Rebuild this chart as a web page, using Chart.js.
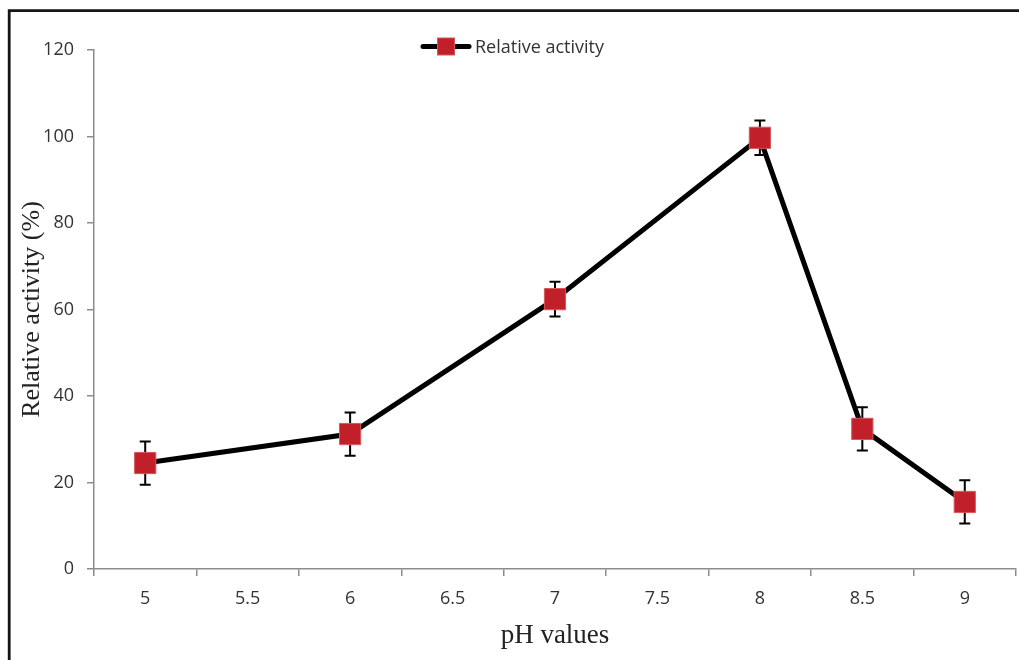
<!DOCTYPE html>
<html><head><meta charset="utf-8">
<script src="https://cdn.jsdelivr.net/npm/chart.js@4/dist/chart.umd.min.js"></script>
<style>html,body{margin:0;padding:0;background:#fff;}#wrap{width:1019px;height:660px;position:relative;}</style>
</head><body><div id="wrap"><canvas id="c" width="1019" height="660"></canvas></div>
<script>
// ---- data ----
const phLabels = ['5', '5.5', '6', '6.5', '7', '7.5', '8', '8.5', '9'];
const relativeActivity = [24.5, null, 31.2, null, 62.4, null, 99.7, 32.4, 15.5];
const errorSD = [5, null, 5, null, 4, null, 4, 5, 5];
const yMin = 0, yMax = 120, yStep = 20;
const seriesName = 'Relative activity';
const xTitle = 'pH values';
const yTitle = 'Relative activity (%)';

const RED = '#C1202A';
const RED_EDGE = '#D8575C';
const AXIS = '#8C8C8C';
const TXT = '#333333';

const errorBars = {
  id: 'errorBars',
  beforeDatasetsDraw(chart) {
    const ctx = chart.ctx, ys = chart.scales.y;
    const meta = chart.getDatasetMeta(0);
    ctx.save();
    ctx.strokeStyle = '#000';
    ctx.lineWidth = 2;
    meta.data.forEach((pt, i) => {
      const v = relativeActivity[i], e = errorSD[i];
      if (v == null || e == null) return;
      const x = pt.x;
      const yt = ys.getPixelForValue(v + e), yb = ys.getPixelForValue(v - e);
      ctx.beginPath();
      ctx.moveTo(x, yt); ctx.lineTo(x, yb);
      ctx.moveTo(x - 5.5, yt); ctx.lineTo(x + 5.5, yt);
      ctx.moveTo(x - 5.5, yb); ctx.lineTo(x + 5.5, yb);
      ctx.stroke();
    });
    ctx.restore();
  }
};

const frameAndLegend = {
  id: 'frameAndLegend',
  afterDraw(chart) {
    const ctx = chart.ctx;
    ctx.save();
    // outer frame
    ctx.strokeStyle = '#151515';
    ctx.lineWidth = 2.8;
    ctx.beginPath();
    ctx.moveTo(9.2, 660); ctx.lineTo(9.2, 10.7); ctx.lineTo(1019, 10.7);
    ctx.stroke();
    // legend
    const cy = 46.5;
    ctx.strokeStyle = '#000';
    ctx.lineWidth = 5;
    ctx.lineCap = 'round';
    ctx.beginPath(); ctx.moveTo(423, cy); ctx.lineTo(469, cy); ctx.stroke();
    ctx.fillStyle = RED;
    ctx.fillRect(437.5, cy - 8.5, 17, 17);
    ctx.strokeStyle = RED_EDGE; ctx.lineWidth = 1;
    ctx.strokeRect(437.5, cy - 8.5, 17, 17);
    ctx.fillStyle = TXT;
    ctx.font = '18px "Open Sans"';
    ctx.textBaseline = 'middle';
    ctx.textAlign = 'left';
    ctx.fillText(seriesName, 475, cy + 1);
    ctx.restore();
  }
};

new Chart(document.getElementById('c'), {
  type: 'line',
  data: {
    labels: phLabels,
    datasets: [{
      label: seriesName,
      data: relativeActivity,
      spanGaps: true,
      borderColor: '#000',
      borderWidth: 5,
      tension: 0,
      pointStyle: 'rect',
      pointRadius: 15,
      pointHoverRadius: 15,
      pointBackgroundColor: RED,
      pointBorderColor: RED_EDGE,
      pointBorderWidth: 1
    }]
  },
  options: {
    responsive: false,
    animation: false,
    devicePixelRatio: 1,
    layout: { autoPadding: false, padding: { left: 0, right: 3, top: 50, bottom: 0 } },
    plugins: { legend: { display: false }, tooltip: { enabled: false } },
    scales: {
      x: {
        type: 'category',
        offset: true,
        grid: { offset: true, drawOnChartArea: false, color: AXIS, lineWidth: 1.5, tickLength: 7 },
        border: { color: AXIS, width: 1.5 },
        ticks: { color: TXT, font: { family: 'Open Sans', size: 18 }, padding: 12, maxRotation: 0, autoSkip: false },
        title: { display: true, text: xTitle, color: '#222', font: { family: 'Liberation Serif', size: 27 }, padding: { top: 0, bottom: 8 } },
        afterFit(s) { s.height = 91; s.paddingLeft = 0; s.paddingRight = 0; }
      },
      y: {
        min: yMin, max: yMax,
        grid: { drawOnChartArea: false, color: AXIS, lineWidth: 1.5, tickLength: 7 },
        border: { color: AXIS, width: 1.5 },
        ticks: { stepSize: yStep, color: TXT, font: { family: 'Open Sans', size: 18 }, padding: 13 },
        title: { display: true, text: yTitle, color: '#222', font: { family: 'Liberation Serif', size: 26 }, padding: { top: 17, bottom: 0 } },
        afterFit(s) { s.width = 94; }
      }
    }
  },
  plugins: [errorBars, frameAndLegend]
});
</script></body></html>
